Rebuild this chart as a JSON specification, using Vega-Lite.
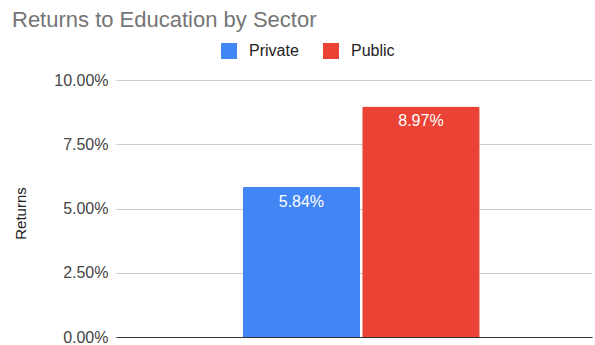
{
  "$schema": "https://vega.github.io/schema/vega-lite/v6.json",
  "autosize": {"type": "none"},
  "width": 476,
  "height": 257,
  "padding": {"left": 116, "top": 80, "right": 3, "bottom": 8},
  "view": {"stroke": null},
  "title": {
    "text": "Returns to Education by Sector",
    "anchor": "start",
    "frame": "group",
    "dx": -104,
    "dy": -7,
    "fontSize": 22,
    "font": "Liberation Sans",
    "fontWeight": "normal",
    "color": "#757575"
  },
  "data": {
    "values": [
      {"sector": "Private", "returns": 0.0584},
      {"sector": "Public", "returns": 0.0897}
    ]
  },
  "encoding": {
    "x": {
      "field": "sector",
      "type": "nominal",
      "scale": {"paddingInner": 0.017, "paddingOuter": 1.008, "align": 0.53},
      "axis": {"labels": false, "ticks": false, "title": null, "domain": true, "domainColor": "#333333", "domainWidth": 1, "grid": false}
    },
    "y": {
      "field": "returns",
      "type": "quantitative",
      "scale": {"domain": [0, 0.1]},
      "axis": {
        "values": [0, 0.025, 0.05, 0.075, 0.1],
        "format": ".2%",
        "title": "Returns",
        "titleFont": "Liberation Sans",
        "titleFontSize": 15,
        "titleFontWeight": "normal",
        "titleColor": "#222222",
        "titlePadding": 25,
        "titleY": 133,
        "labelFont": "Liberation Sans",
        "labelFontSize": 16,
        "labelColor": "#444444",
        "labelPadding": 8,
        "ticks": false,
        "domain": false,
        "gridColor": "#cccccc"
      }
    }
  },
  "layer": [
    {
      "mark": {"type": "bar", "cornerRadiusTopLeft": 2, "cornerRadiusTopRight": 2},
      "encoding": {
        "color": {
          "field": "sector",
          "type": "nominal",
          "scale": {"domain": ["Private", "Public"], "range": ["#4285F4", "#EA4335"]},
          "legend": {
            "orient": "none",
            "legendX": 105,
            "legendY": -37,
            "direction": "horizontal",
            "title": null,
            "symbolType": "square",
            "symbolSize": 256,
            "symbolStrokeWidth": 0,
            "labelFont": "Liberation Sans",
            "labelFontSize": 16,
            "labelColor": "#222222",
            "columnPadding": 24,
            "labelOffset": 12
          }
        }
      }
    },
    {
      "mark": {"type": "text", "baseline": "middle", "dy": 15, "color": "white", "fontSize": 16, "font": "Liberation Sans"},
      "encoding": {
        "text": {"field": "returns", "type": "quantitative", "format": ".2%"}
      }
    }
  ]
}
